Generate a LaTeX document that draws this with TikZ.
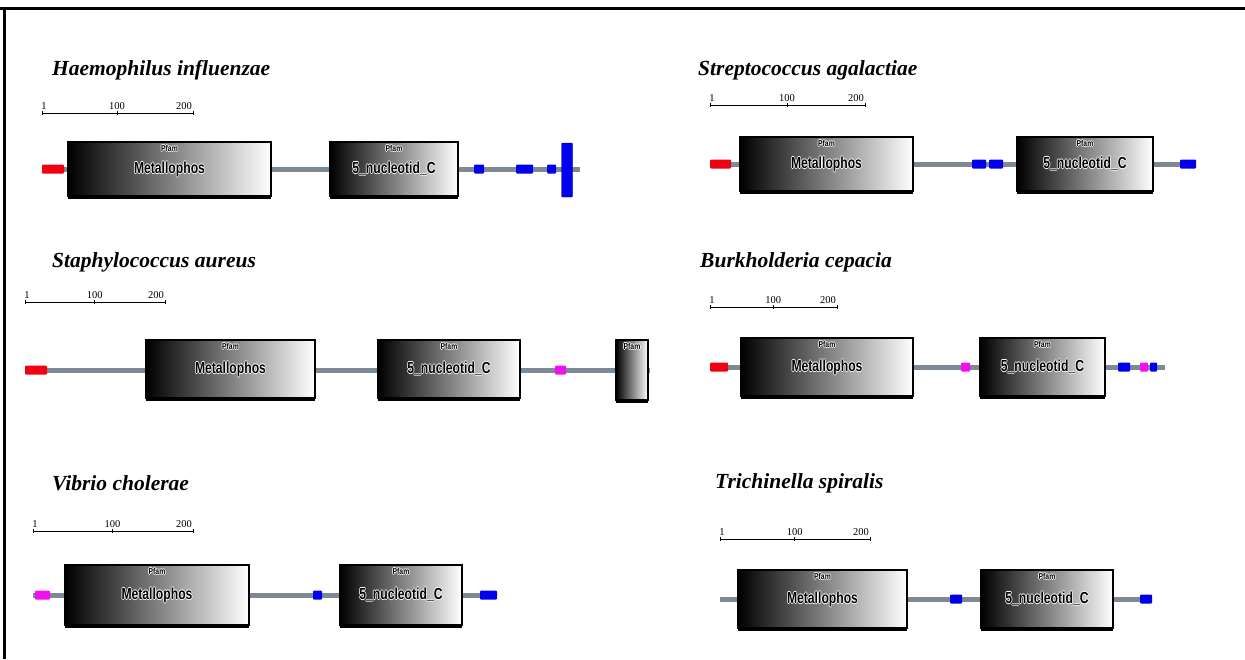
\documentclass[tikz,border=0pt]{standalone}
\usepackage{fontspec}
\usepackage{graphicx}
\setmainfont{Liberation Serif}
\newfontfamily\domainfont{Liberation Sans}
\usepackage{tikz}
\definecolor{backbone}{HTML}{7D8A96}
\definecolor{motifred}{HTML}{F00010}
\definecolor{motifblue}{HTML}{0000EE}
\definecolor{motifpink}{HTML}{F010F0}
\tikzset{%
  species/.style={anchor=west, inner sep=0, font=\fontsize{21.5}{22}\selectfont\bfseries\itshape},
  backbone/.style={draw=backbone, line width=5pt},
  pfam/.style={rectangle, draw=black, line width=2pt, left color=black, right color=white, inner sep=0,
    font=\domainfont\bfseries\fontsize{16}{16}\selectfont,
    append after command={(\tikzlastnode.south west) edge[draw=black, line width=3.5pt, shorten <=1pt, shorten >=1pt] (\tikzlastnode.south east)}},
  pfamtag/.style={anchor=north, yshift=-3pt, inner sep=0, font=\domainfont\bfseries\fontsize{8.5}{8}\selectfont},
  motif/.style={rectangle, inner sep=0, minimum height=9pt, rounded corners=1pt},
  ruler/.style={line width=0.8pt},
  rulerlabel/.style={anchor=south, inner sep=0, font=\fontsize{10.5}{10}\selectfont}
}
% white halo round the domain names
\newcommand{\halo}[1]{%
  \leavevmode\rlap{\color{white}\kern-1pt#1}%
  \rlap{\color{white}\kern1pt#1}%
  \rlap{\color{white}\raisebox{1pt}{#1}}%
  \rlap{\color{white}\raisebox{-1pt}{#1}}%
  #1}
\newcommand{\pfamname}[1]{\raisebox{-3pt}{\scalebox{0.76}[1]{\halo{#1}}}}
\newcommand{\pfamtag}{\scalebox{0.8}[1]{\halo{Pfam}}}
\newcommand{\rowh}{54pt}
% scale bar: name, x of 1, x of 200, y
\newcommand{\scalebar}[4]{%
  \draw[ruler] (#2,#4) -- (#3,#4);
  \draw[ruler] (#2,#4-2) -- ++(0,4);
  \draw[ruler] ({#2+(#3-#2)*99/199},#4-2) -- ++(0,4);
  \draw[ruler] (#3,#4-2) -- ++(0,4);
  \node (#1_one) at (#2+2,#4-3) [rulerlabel] {1};
  \node (#1_hundred) at ({#2+(#3-#2)*99/199},#4-3) [rulerlabel] {100};
  \node (#1_twohundred) at (#3-9,#4-3) [rulerlabel] {200};
}

\begin{document}
\begin{tikzpicture}[x=1pt,y=-1pt]
\useasboundingbox (0,0) rectangle (1245,659);
\draw[line width=2.5pt] (0,8.5) -- (1245,8.5);
\draw[line width=3pt] (4,8.5) -- (4,659);

%% Haemophilus influenzae
\node (h_title) at (52,70) [species] {Haemophilus influenzae};
\scalebar{h}{42}{193}{113}
\coordinate (h_start) at (42,169);
\coordinate (h_end) at (580,169);
\draw[backbone] (h_start) -- (h_end);
\node (h_sig) at (53,169) [motif, fill=motifred, minimum width=22pt] {};
\node (h_metal) at (169.5,169) [pfam, minimum width=203pt, minimum height=\rowh, label={[pfamtag]north:\pfamtag}] {\pfamname{Metallophos}};
\node (h_nucl) at (394,169) [pfam, minimum width=128pt, minimum height=\rowh, label={[pfamtag]north:\pfamtag}] {\pfamname{5\_nucleotid\_C}};
\node (h_m1) at (479,169) [motif, fill=motifblue, minimum width=10pt] {};
\node (h_m2) at (524.5,169) [motif, fill=motifblue, minimum width=17pt] {};
\node (h_m3) at (551.5,169) [motif, fill=motifblue, minimum width=9pt] {};
\node (h_tm) at (567,170) [motif, fill=motifblue, draw=blue!40!black, minimum width=11pt, minimum height=54pt] {};

%% Streptococcus agalactiae
\node (s_title) at (698,70) [species] {Streptococcus agalactiae};
\scalebar{s}{710}{865}{105}
\coordinate (s_start) at (710,164);
\coordinate (s_end) at (1190,164);
\draw[backbone] (s_start) -- (s_end);
\node (s_sig) at (720.5,164) [motif, fill=motifred, minimum width=21pt] {};
\node (s_metal) at (826.5,164) [pfam, minimum width=173pt, minimum height=\rowh, label={[pfamtag]north:\pfamtag}] {\pfamname{Metallophos}};
\node (s_m1) at (979,164) [motif, fill=motifblue, minimum width=14pt] {};
\node (s_m2) at (996,164) [motif, fill=motifblue, minimum width=14pt] {};
\node (s_nucl) at (1085,164) [pfam, minimum width=136pt, minimum height=\rowh, label={[pfamtag]north:\pfamtag}] {\pfamname{5\_nucleotid\_C}};
\node (s_m3) at (1188,164) [motif, fill=motifblue, minimum width=16pt] {};

%% Staphylococcus aureus
\node (a_title) at (52,262) [species] {Staphylococcus aureus};
\scalebar{a}{25}{165}{302}
\coordinate (a_start) at (25,370);
\coordinate (a_end) at (650,370);
\draw[backbone] (a_start) -- (a_end);
\node (a_sig) at (36,370) [motif, fill=motifred, minimum width=22pt] {};
\node (a_metal) at (230.5,369) [pfam, minimum width=169pt, minimum height=58pt, label={[pfamtag]north:\pfamtag}] {\pfamname{Metallophos}};
\node (a_nucl) at (449,369) [pfam, minimum width=142pt, minimum height=58pt, label={[pfamtag]north:\pfamtag}] {\pfamname{5\_nucleotid\_C}};
\node (a_m1) at (560.5,370) [motif, fill=motifpink, minimum width=11pt] {};
\node (a_small) at (632,370) [pfam, minimum width=32pt, minimum height=60pt, label={[pfamtag]north:\pfamtag}] {};

%% Burkholderia cepacia
\node (b_title) at (700,262) [species] {Burkholderia cepacia};
\scalebar{b}{710}{837}{307}
\coordinate (b_start) at (710,367);
\coordinate (b_end) at (1165,367);
\draw[backbone] (b_start) -- (b_end);
\node (b_sig) at (719,367) [motif, fill=motifred, minimum width=18pt] {};
\node (b_metal) at (827,367) [pfam, minimum width=172pt, minimum height=58pt, label={[pfamtag]north:\pfamtag}] {\pfamname{Metallophos}};
\node (b_m1) at (965.5,367) [motif, fill=motifpink, minimum width=9pt] {};
\node (b_nucl) at (1042.5,367) [pfam, minimum width=125pt, minimum height=58pt, label={[pfamtag]north:\pfamtag}] {\pfamname{5\_nucleotid\_C}};
\node (b_m2) at (1124,367) [motif, fill=motifblue, minimum width=12pt] {};
\node (b_m3) at (1144,367) [motif, fill=motifpink, minimum width=8pt] {};
\node (b_m4) at (1153.5,367) [motif, fill=motifblue, minimum width=7pt] {};

%% Vibrio cholerae
\node (v_title) at (52,483) [species] {Vibrio cholerae};
\scalebar{v}{33}{193}{531}
\coordinate (v_start) at (33,595);
\coordinate (v_end) at (495,595);
\draw[backbone] (v_start) -- (v_end);
\node (v_sig) at (42.5,595) [motif, fill=motifpink, minimum width=15pt] {};
\node (v_metal) at (157,595) [pfam, minimum width=184pt, minimum height=60pt, label={[pfamtag]north:\pfamtag}] {\pfamname{Metallophos}};
\node (v_m1) at (317.5,595) [motif, fill=motifblue, minimum width=9pt] {};
\node (v_nucl) at (401,595) [pfam, minimum width=122pt, minimum height=60pt, label={[pfamtag]north:\pfamtag}] {\pfamname{5\_nucleotid\_C}};
\node (v_m2) at (488.5,595) [motif, fill=motifblue, minimum width=17pt] {};

%% Trichinella spiralis
\node (t_title) at (715,483) [species] {Trichinella spiralis};
\scalebar{t}{720}{870}{539}
\coordinate (t_start) at (720,599);
\coordinate (t_end) at (1150,599);
\draw[backbone] (t_start) -- (t_end);
\node (t_metal) at (822.5,599) [pfam, minimum width=169pt, minimum height=58pt, label={[pfamtag]north:\pfamtag}] {\pfamname{Metallophos}};
\node (t_m1) at (956,599) [motif, fill=motifblue, minimum width=12pt] {};
\node (t_nucl) at (1047,599) [pfam, minimum width=132pt, minimum height=58pt, label={[pfamtag]north:\pfamtag}] {\pfamname{5\_nucleotid\_C}};
\node (t_m2) at (1146,599) [motif, fill=motifblue, minimum width=12pt] {};

\end{tikzpicture}
\end{document}
